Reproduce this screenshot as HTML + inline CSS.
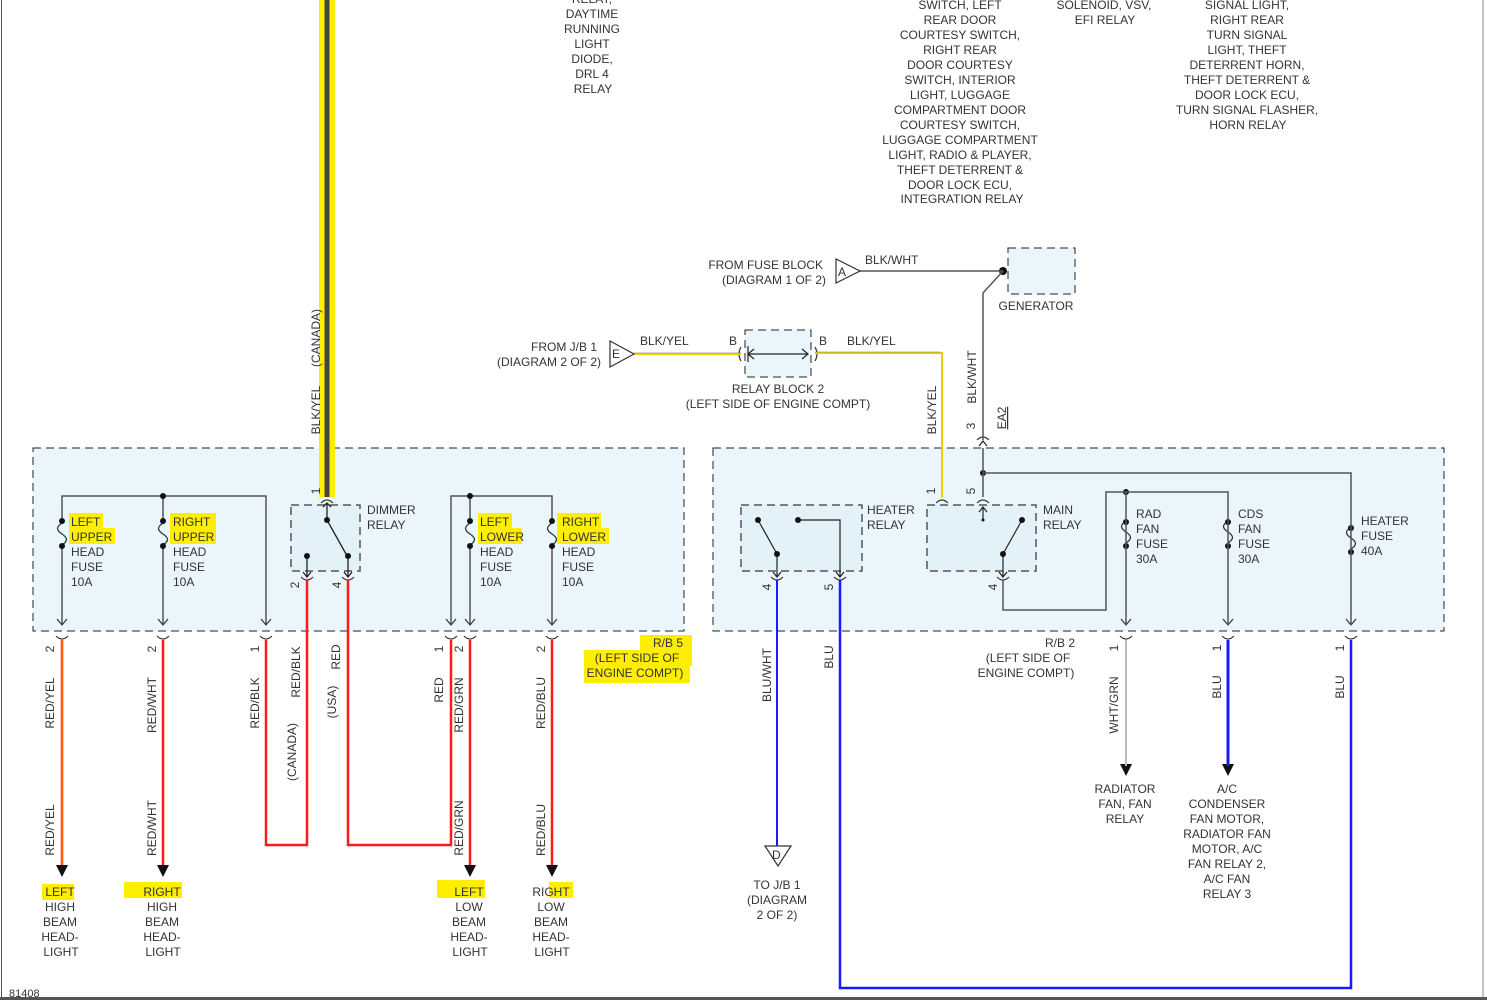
<!DOCTYPE html>
<html><head><meta charset="utf-8"><style>
html,body{margin:0;padding:0;background:#fff}
svg{display:block}
text{font-family:"Liberation Sans",sans-serif;font-size:12px;fill:#333}
</style></head><body>
<svg width="1487" height="1000" viewBox="0 0 1487 1000" xmlns="http://www.w3.org/2000/svg">
<!-- borders -->
<line x1="1.5" y1="0" x2="1.5" y2="998" stroke="#555" stroke-width="1"/>
<line x1="1483" y1="0" x2="1483" y2="998" stroke="#888" stroke-width="1"/>
<rect x="0" y="997" width="1487" height="3" fill="#555"/>
<text x="9" y="997" style="font-size:11px">81408</text>

<!-- boxes -->
<rect x="33" y="448" width="651" height="183" fill="#eaf6fc" stroke="#222" stroke-dasharray="8,5"/>
<rect x="713" y="448" width="731" height="183" fill="#eaf6fc" stroke="#222" stroke-dasharray="8,5"/>
<rect x="291" y="505" width="69" height="66" fill="#e3f1f8" stroke="#555" stroke-width="1.5" stroke-dasharray="8,5"/>
<rect x="741" y="505" width="121" height="66" fill="#e3f1f8" stroke="#555" stroke-width="1.5" stroke-dasharray="8,5"/>
<rect x="927" y="505" width="109" height="66" fill="#e3f1f8" stroke="#555" stroke-width="1.5" stroke-dasharray="8,5"/>
<rect x="745" y="330" width="66" height="47" fill="#eaf6fc" stroke="#222" stroke-dasharray="8,5"/>
<rect x="1008" y="248" width="67" height="46" fill="#eaf6fc" stroke="#222" stroke-dasharray="8,5"/>

<!-- highlights -->
<g fill="#ffee00">
<rect x="69" y="513" width="34" height="16"/><rect x="69" y="528" width="46" height="16"/>
<rect x="170" y="513" width="46" height="16"/><rect x="170" y="528" width="46" height="16"/>
<rect x="478" y="513" width="34" height="16"/><rect x="478" y="528" width="44" height="16"/>
<rect x="557" y="513" width="44" height="16"/><rect x="557" y="528" width="52" height="16"/>
<rect x="640" y="635" width="52" height="16"/><rect x="584" y="650" width="108" height="16"/><rect x="584" y="665" width="106" height="18"/>
<rect x="42" y="884" width="32" height="16"/>
<rect x="124" y="882" width="58" height="16"/>
<rect x="437" y="880" width="48" height="18"/>
<rect x="549" y="882" width="24" height="16"/>
</g>

<!-- yellow big wire -->
<rect x="319" y="0" width="16" height="497" fill="#ffee00"/>
<rect x="324.5" y="0" width="5" height="497" fill="#444"/>

<!-- left internal wiring -->
<g stroke="#555" stroke-width="1.5" fill="none">
<polyline points="62,625 62,496 266,496 266,625"/>
<line x1="163" y1="496" x2="163" y2="625"/>
<polyline points="451,625 451,496 552,496 552,625"/>
<line x1="470" y1="496" x2="470" y2="625"/>
</g>
<g fill="#eaf6fc"><rect x="58" y="523" width="8" height="22"/><rect x="159" y="523" width="8" height="22"/>
<rect x="466" y="523" width="8" height="22"/><rect x="548" y="523" width="8" height="22"/>
<rect x="1122" y="521" width="8" height="22"/><rect x="1224" y="521" width="8" height="22"/><rect x="1347" y="527" width="8" height="22"/></g>
<g stroke="#333" stroke-width="1.3" fill="none">
<path d="M62,523 c-6,4 -6,7 0,11 c6,4 6,7 0,11"/>
<path d="M163,523 c-6,4 -6,7 0,11 c6,4 6,7 0,11"/>
<path d="M470,523 c-6,4 -6,7 0,11 c6,4 6,7 0,11"/>
<path d="M552,523 c-6,4 -6,7 0,11 c6,4 6,7 0,11"/>
<path d="M1126,521 c-6,4 -6,7 0,11 c6,4 6,7 0,11"/>
<path d="M1228,521 c-6,4 -6,7 0,11 c6,4 6,7 0,11"/>
<path d="M1351,527 c-6,4 -6,7 0,11 c6,4 6,7 0,11"/>
</g>
<g fill="#111">
<circle cx="163" cy="496" r="3"/><circle cx="470" cy="496" r="3"/>
<circle cx="62" cy="521" r="3"/><circle cx="62" cy="546" r="3"/>
<circle cx="163" cy="521" r="3"/><circle cx="163" cy="546" r="3"/>
<circle cx="470" cy="521" r="3"/><circle cx="470" cy="546" r="3"/>
<circle cx="552" cy="521" r="3"/><circle cx="552" cy="546" r="3"/>
<circle cx="1126" cy="492" r="3"/><circle cx="983" cy="473" r="3"/>
<circle cx="1126" cy="522" r="3"/><circle cx="1126" cy="546" r="3"/>
<circle cx="1228" cy="522" r="3"/><circle cx="1228" cy="546" r="3"/>
<circle cx="1351" cy="528" r="3"/><circle cx="1351" cy="552" r="3"/>
<circle cx="1003" cy="271" r="4"/>
</g>
<g stroke="#333" stroke-width="1.2" fill="none">
<path d="M57,619 l5,6 l5,-6"/><path d="M158,619 l5,6 l5,-6"/><path d="M261,619 l5,6 l5,-6"/>
<path d="M446,619 l5,6 l5,-6"/><path d="M465,619 l5,6 l5,-6"/><path d="M547,619 l5,6 l5,-6"/>
<path d="M1121,619 l5,6 l5,-6"/><path d="M1223,619 l5,6 l5,-6"/><path d="M1346,619 l5,6 l5,-6"/>
<path d="M56,636 q6,6 12,0"/><path d="M157,636 q6,6 12,0"/><path d="M260,636 q6,6 12,0"/>
<path d="M445,636 q6,6 12,0"/><path d="M464,636 q6,6 12,0"/><path d="M546,636 q6,6 12,0"/>
<path d="M301,577 q6,6 12,0"/><path d="M342,577 q6,6 12,0"/>
<path d="M321,503 q6,-6 12,0"/>
<path d="M771,577 q6,6 12,0"/><path d="M834,577 q6,6 12,0"/><path d="M997,577 q6,6 12,0"/>
<path d="M936,503 q6,-6 12,0"/><path d="M977,503 q6,-6 12,0"/><path d="M977,440 q6,-6 12,0"/>
<path d="M1120,636 q6,6 12,0"/><path d="M1222,636 q6,6 12,0"/><path d="M1345,636 q6,6 12,0"/>
<path d="M741,347 q-4,7 0,14"/><path d="M815,347 q4,7 0,14"/>
</g>
<g stroke="#222" stroke-width="1.3" fill="none">
<line x1="327" y1="503" x2="327" y2="520"/><path d="M323,507 l4,-4 l4,4"/>
<line x1="327" y1="520" x2="346" y2="554"/>
<line x1="307" y1="556" x2="307" y2="577"/><path d="M303,572 l4,5 l4,-5"/>
<line x1="348" y1="556" x2="348" y2="577"/><path d="M344,572 l4,5 l4,-5"/>
</g>
<g fill="#111"><circle cx="327" cy="520" r="3"/><circle cx="307" cy="556" r="3"/><circle cx="348" cy="556" r="3"/></g>

<g fill="none" stroke-width="2.5">
<line x1="62" y1="640" x2="62" y2="866" stroke="#ff1a1a"/>
<line x1="62" y1="640" x2="62" y2="866" stroke="#f5c000" stroke-width="0.8"/>
<line x1="163" y1="640" x2="163" y2="866" stroke="#ff1a1a"/>
<polyline points="266,640 266,845 307,845 307,580" stroke="#ff1a1a"/>
<polyline points="348,580 348,845 451,845 451,640" stroke="#ff1a1a"/>
<line x1="470" y1="640" x2="470" y2="866" stroke="#ff1a1a"/>
<line x1="552" y1="640" x2="552" y2="866" stroke="#ff1a1a"/>
</g>
<g fill="#111">
<path d="M56,865 h12 l-6,12z"/><path d="M157,865 h12 l-6,12z"/><path d="M464,865 h12 l-6,12z"/><path d="M546,865 h12 l-6,12z"/>
<path d="M1120,764 h12 l-6,12z"/><path d="M1222,764 h12 l-6,12z"/>
</g>

<g stroke="#555" stroke-width="1.5" fill="none">
<polyline points="836,271 1003,271"/>
<polyline points="1003,271 983,293 983,440"/>
<polyline points="983,448 983,497"/>
<polyline points="983,473 1351,473 1351,625"/>
<polyline points="1003,580 1003,610 1106,610 1106,492 1228,492 1228,625"/>
<line x1="1126" y1="492" x2="1126" y2="625"/>
</g>
<polyline points="634,354 741,354" stroke="#f5d800" stroke-width="2" fill="none"/>
<polyline points="634,353 741,353" stroke="#666" stroke-width="0.6" fill="none"/>
<polyline points="815,353 942,353 942,497" stroke="#e6d000" stroke-width="2" fill="none"/>
<polyline points="815,352 941,352" stroke="#777" stroke-width="0.6" fill="none"/>
<g stroke="#222" stroke-width="1.2" fill="none">
<line x1="748" y1="354" x2="808" y2="354"/><path d="M754,349 l-6,5 l6,5"/><path d="M802,349 l6,5 l-6,5"/>
<line x1="748" y1="346" x2="748" y2="362"/>
<path d="M979,446 l4,-5 l4,5"/>
<line x1="983" y1="508" x2="983" y2="520"/><path d="M979,512 l4,-5 l4,5"/>
<line x1="1003" y1="554" x2="1022" y2="520"/>
<line x1="1003" y1="554" x2="1003" y2="577"/><path d="M999,572 l4,5 l4,-5"/>
<line x1="758" y1="520" x2="777" y2="554"/>
<line x1="777" y1="554" x2="777" y2="577"/><path d="M773,572 l4,5 l4,-5"/>
<polyline points="798,520 840,520 840,577"/><path d="M836,572 l4,5 l4,-5"/>
</g>
<g fill="#111"><circle cx="758" cy="520" r="3"/><circle cx="777" cy="554" r="3"/><circle cx="798" cy="520" r="3"/>
<circle cx="1022" cy="520" r="3"/><circle cx="1003" cy="554" r="3"/><circle cx="983" cy="520" r="1.5"/></g>
<g fill="#fff" stroke="#333" stroke-width="1.2">
<path d="M836,259 v24 l24,-12z"/><path d="M610,341 v26 l24,-13z"/><path d="M765,846 h26 l-13,20z"/>
</g>
<text x="838" y="276">A</text><text x="612" y="358">E</text><text x="772" y="859">D</text>

<g fill="none">
<line x1="777" y1="580" x2="777" y2="846" stroke="#1a1aff" stroke-width="2"/>
<polyline points="840,580 840,988 1351,988 1351,640" stroke="#1a1aff" stroke-width="2.5"/>
<line x1="1126" y1="640" x2="1126" y2="766" stroke="#bbb" stroke-width="2"/>
<line x1="1228" y1="640" x2="1228" y2="766" stroke="#1a1aff" stroke-width="3"/>
</g>

<g>
<text x="71" y="526">LEFT</text><text x="71" y="541">UPPER</text><text x="71" y="556">HEAD</text><text x="71" y="571">FUSE</text><text x="71" y="586">10A</text>
<text x="173" y="526">RIGHT</text><text x="173" y="541">UPPER</text><text x="173" y="556">HEAD</text><text x="173" y="571">FUSE</text><text x="173" y="586">10A</text>
<text x="480" y="526">LEFT</text><text x="480" y="541">LOWER</text><text x="480" y="556">HEAD</text><text x="480" y="571">FUSE</text><text x="480" y="586">10A</text>
<text x="562" y="526">RIGHT</text><text x="562" y="541">LOWER</text><text x="562" y="556">HEAD</text><text x="562" y="571">FUSE</text><text x="562" y="586">10A</text>
<text x="367" y="514">DIMMER</text><text x="367" y="529">RELAY</text>
<text x="867" y="514">HEATER</text><text x="867" y="529">RELAY</text>
<text x="1043" y="514">MAIN</text><text x="1043" y="529">RELAY</text>
<text x="1136" y="518">RAD</text><text x="1136" y="533">FAN</text><text x="1136" y="548">FUSE</text><text x="1136" y="563">30A</text>
<text x="1238" y="518">CDS</text><text x="1238" y="533">FAN</text><text x="1238" y="548">FUSE</text><text x="1238" y="563">30A</text>
<text x="1361" y="525">HEATER</text><text x="1361" y="540">FUSE</text><text x="1361" y="555">40A</text>
</g>
<g text-anchor="middle">
<text x="668" y="647">R/B 5</text><text x="637" y="662">(LEFT SIDE OF</text><text x="635" y="677">ENGINE COMPT)</text>
<text x="1060" y="647">R/B 2</text><text x="1028" y="662">(LEFT SIDE OF</text><text x="1026" y="677">ENGINE COMPT)</text>
<text x="60" y="896">LEFT</text><text x="60" y="911">HIGH</text><text x="60" y="926">BEAM</text><text x="60" y="941">HEAD-</text><text x="61" y="956">LIGHT</text>
<text x="162" y="896">RIGHT</text><text x="162" y="911">HIGH</text><text x="162" y="926">BEAM</text><text x="162" y="941">HEAD-</text><text x="163" y="956">LIGHT</text>
<text x="469" y="896">LEFT</text><text x="469" y="911">LOW</text><text x="469" y="926">BEAM</text><text x="469" y="941">HEAD-</text><text x="470" y="956">LIGHT</text>
<text x="551" y="896">RIGHT</text><text x="551" y="911">LOW</text><text x="551" y="926">BEAM</text><text x="551" y="941">HEAD-</text><text x="552" y="956">LIGHT</text>
<text x="777" y="889">TO J/B 1</text><text x="777" y="904">(DIAGRAM</text><text x="777" y="919">2 OF 2)</text>
<text x="1125" y="793">RADIATOR</text><text x="1125" y="808">FAN, FAN</text><text x="1125" y="823">RELAY</text>
<text x="1227" y="793">A/C</text><text x="1227" y="808">CONDENSER</text><text x="1227" y="823">FAN MOTOR,</text><text x="1227" y="838">RADIATOR FAN</text><text x="1227" y="853">MOTOR, A/C</text><text x="1227" y="868">FAN RELAY 2,</text><text x="1227" y="883">A/C FAN</text><text x="1227" y="898">RELAY 3</text>
<text x="778" y="393">RELAY BLOCK 2</text><text x="778" y="408">(LEFT SIDE OF ENGINE COMPT)</text>
<text x="1036" y="310">GENERATOR</text>
<text x="592" y="3">RELAY,</text><text x="592" y="18">DAYTIME</text><text x="592" y="33">RUNNING</text><text x="592" y="48">LIGHT</text><text x="592" y="63">DIODE,</text><text x="592" y="78">DRL 4</text><text x="593" y="93">RELAY</text>
<text x="960" y="9">SWITCH, LEFT</text><text x="960" y="24">REAR DOOR</text><text x="960" y="39">COURTESY SWITCH,</text><text x="960" y="54">RIGHT REAR</text><text x="960" y="69">DOOR COURTESY</text><text x="960" y="84">SWITCH, INTERIOR</text><text x="960" y="99">LIGHT, LUGGAGE</text><text x="960" y="114">COMPARTMENT DOOR</text><text x="960" y="129">COURTESY SWITCH,</text><text x="960" y="144">LUGGAGE COMPARTMENT</text><text x="960" y="159">LIGHT, RADIO &amp; PLAYER,</text><text x="960" y="174">THEFT DETERRENT &amp;</text><text x="960" y="189">DOOR LOCK ECU,</text><text x="962" y="203">INTEGRATION RELAY</text>
<text x="1104" y="9">SOLENOID, VSV,</text><text x="1105" y="24">EFI RELAY</text>
<text x="1247" y="9">SIGNAL LIGHT,</text><text x="1247" y="24">RIGHT REAR</text><text x="1247" y="39">TURN SIGNAL</text><text x="1247" y="54">LIGHT, THEFT</text><text x="1247" y="69">DETERRENT HORN,</text><text x="1247" y="84">THEFT DETERRENT &amp;</text><text x="1247" y="99">DOOR LOCK ECU,</text><text x="1247" y="114">TURN SIGNAL FLASHER,</text><text x="1248" y="129">HORN RELAY</text>
</g>
<g text-anchor="end">
<text x="823" y="269">FROM FUSE BLOCK</text><text x="826" y="284">(DIAGRAM 1 OF 2)</text>
<text x="597" y="351">FROM J/B 1</text><text x="601" y="366">(DIAGRAM 2 OF 2)</text>
</g>
<text x="865" y="264">BLK/WHT</text>
<text x="640" y="345">BLK/YEL</text><text x="847" y="345">BLK/YEL</text>
<text x="729" y="345">B</text><text x="819" y="345">B</text>

<g text-anchor="middle">
<text transform="translate(54,649) rotate(-90)">2</text>
<text transform="translate(54,703) rotate(-90)">RED/YEL</text>
<text transform="translate(54,830) rotate(-90)">RED/YEL</text>
<text transform="translate(156,649) rotate(-90)">2</text>
<text transform="translate(156,705) rotate(-90)">RED/WHT</text>
<text transform="translate(156,828) rotate(-90)">RED/WHT</text>
<text transform="translate(259,649) rotate(-90)">1</text>
<text transform="translate(259,703) rotate(-90)">RED/BLK</text>
<text transform="translate(300,672) rotate(-90)">RED/BLK</text>
<text transform="translate(296,752) rotate(-90)">(CANADA)</text>
<text transform="translate(340,657) rotate(-90)">RED</text>
<text transform="translate(336,702) rotate(-90)">(USA)</text>
<text transform="translate(443,649) rotate(-90)">1</text>
<text transform="translate(443,690) rotate(-90)">RED</text>
<text transform="translate(463,649) rotate(-90)">2</text>
<text transform="translate(463,705) rotate(-90)">RED/GRN</text>
<text transform="translate(463,828) rotate(-90)">RED/GRN</text>
<text transform="translate(545,649) rotate(-90)">2</text>
<text transform="translate(545,703) rotate(-90)">RED/BLU</text>
<text transform="translate(545,830) rotate(-90)">RED/BLU</text>
<text transform="translate(299,585) rotate(-90)">2</text>
<text transform="translate(341,585) rotate(-90)">4</text>
<text transform="translate(320,491) rotate(-90)">1</text>
<text transform="translate(320,410) rotate(-90)">BLK/YEL</text>
<text transform="translate(320,338) rotate(-90)">(CANADA)</text>
<text transform="translate(771,587) rotate(-90)">4</text>
<text transform="translate(771,675) rotate(-90)">BLU/WHT</text>
<text transform="translate(833,587) rotate(-90)">5</text>
<text transform="translate(833,657) rotate(-90)">BLU</text>
<text transform="translate(935,491) rotate(-90)">1</text>
<text transform="translate(975,491) rotate(-90)">5</text>
<text transform="translate(997,587) rotate(-90)">4</text>
<text transform="translate(975,426) rotate(-90)">3</text>
<text transform="translate(1006,418) rotate(-90)" style="text-decoration:underline">EA2</text>
<text transform="translate(936,410) rotate(-90)">BLK/YEL</text>
<text transform="translate(976,377) rotate(-90)">BLK/WHT</text>
<text transform="translate(1118,648) rotate(-90)">1</text>
<text transform="translate(1118,705) rotate(-90)">WHT/GRN</text>
<text transform="translate(1221,648) rotate(-90)">1</text>
<text transform="translate(1221,687) rotate(-90)">BLU</text>
<text transform="translate(1344,648) rotate(-90)">1</text>
<text transform="translate(1344,687) rotate(-90)">BLU</text>
</g>
</svg>
</body></html>
